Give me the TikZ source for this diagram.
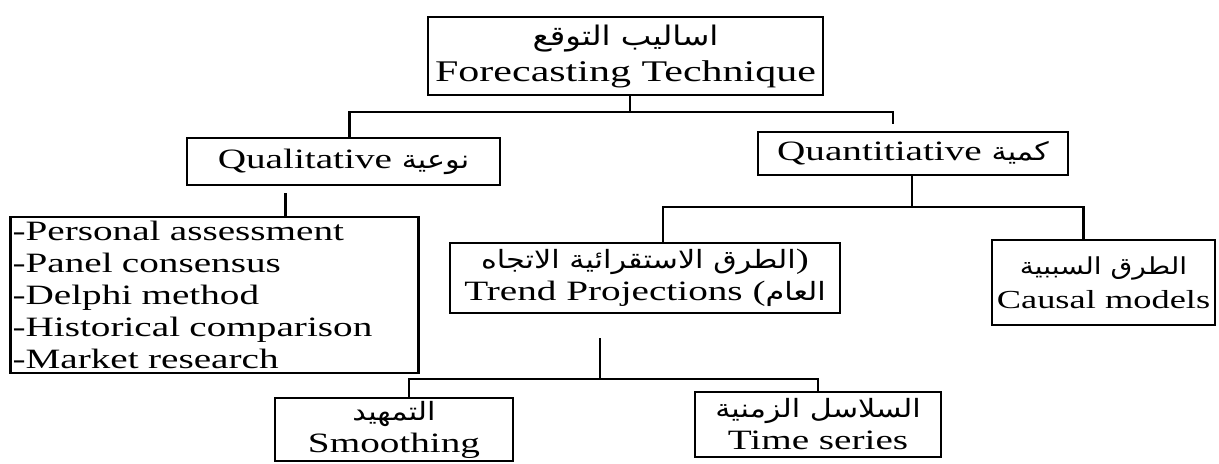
\documentclass[tikz,border=0pt]{standalone}
\usepackage{fontspec}
\setmainfont{Liberation Serif}[FakeStretch=1.4]
\newfontfamily\ar[Script=Arabic,Scale=0.9,FakeStretch=1.2]{DejaVu Sans}
\TeXXeTstate=1
\usetikzlibrary{calc}
\newcommand{\mainsz}{\fontsize{14}{16}\selectfont}
\tikzset{
  box/.style={draw, line width=1.1pt, inner sep=1pt, align=center, font=\mainsz},
  link/.style={line width=1.1pt}
}
\begin{document}
\begin{tikzpicture}[x=0.5pt,y=-0.5pt]
\fill[white] (0,0) rectangle (1219,463);
\useasboundingbox (0,0) rectangle (1219,463);

\node[box, minimum width=197.5pt, minimum height=39pt, font=\fontsize{15}{18}\selectfont] (top) at (625.5,56)
  {{\ar\beginR اساليب التوقع\endR}\\Forecasting Technique};
\node[box, minimum width=156.5pt, minimum height=23.5pt] (qual) at (343.5,161.5)
  {Qualitative {\ar\beginR نوعية\endR}};
\node[box, minimum width=155pt, minimum height=21.5pt] (quant) at (913,153.5)
  {Quantitiative {\ar\beginR كمية\endR}};
\node[box, align=left, text width=202pt, inner xsep=1pt, minimum height=78pt] (list) at (214.5,295)
  {-Personal assessment\\-Panel consensus\\-Delphi method\\-Historical comparison\\-Market research};
\node[box, minimum width=195pt, minimum height=35pt] (trend) at (645,278)
  {{\ar\beginR الطرق الاستقرائية الاتجاه\endR})\\Trend Projections ({\ar\beginR العام\endR}};
\node[box, minimum width=111.5pt, minimum height=42.5pt, font=\fontsize{13}{17}\selectfont] (causal) at (1103.5,282.5)
  {{\ar\beginR الطرق السببية\endR}\\Causal models};
\node[box, minimum width=119pt, minimum height=31.5pt] (smooth) at (394,429.5)
  {{\ar\beginR التمهيد\endR}\\Smoothing};
\node[box, minimum width=123pt, minimum height=32.5pt] (time) at (818,424.5)
  {{\ar\beginR السلاسل الزمنية\endR}\\Time series};

\coordinate (j1) at (630,112);
\coordinate (j2) at (912,207);
\coordinate (j3) at (600,379);

\draw[link] (top.south -| j1) -- (j1);
\draw[link, shorten >=3.5pt] ([xshift=3pt]qual.north) |- (j1) -| ([xshift=-10pt]quant.north);
\draw[link, shorten <=3.5pt] ([xshift=-29pt]qual.south) -- ([xshift=-29pt]qual.south |- list.north);
\draw[link] (quant.south -| j2) -- (j2);
\draw[link] ([xshift=9pt]trend.north) |- (j2) -| ([xshift=-10pt]causal.north);
\draw[link, shorten <=12pt] (trend.south -| j3) -- (j3);
\draw[link] ([xshift=7.5pt]smooth.north) |- (j3) -| (time.north);
\end{tikzpicture}
\end{document}
